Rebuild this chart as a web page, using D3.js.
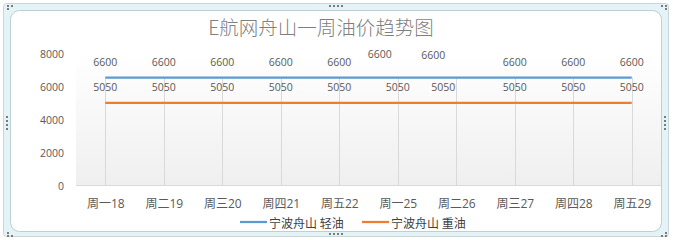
<!DOCTYPE html>
<html>
<head>
<meta charset="utf-8">
<script src="https://cdn.jsdelivr.net/npm/d3@7"></script>
<style>
  body { margin: 0; background: #fff; }
  svg { display: block; font-family: "Open Sans", "Noto Sans CJK SC", sans-serif; }
</style>
</head>
<body>
<svg width="673" height="240"></svg>
<script>
// donnees
const days = ["周一18", "周二19", "周三20", "周四21", "周五22", "周一25", "周二26", "周三27", "周四28", "周五29"];
const lightOil = [6600, 6600, 6600, 6600, 6600, 6600, 6600, 6600, 6600, 6600];
const heavyOil = [5050, 5050, 5050, 5050, 5050, 5050, 5050, 5050, 5050, 5050];
const yTicks = [0, 2000, 4000, 6000, 8000];
const seriesNames = ["宁波舟山 轻油", "宁波舟山 重油"];
const seriesColors = ["#5b9bd5", "#ed7d31"];

// decalage des etiquettes deplacees a la main (index -> [dx, dy])
const lightShift = { 5: [-18, -8], 6: [-23, -7] };
const heavyShift = { 6: [-13, 0] };

const svg = d3.select("svg");

/* ----- cadre ----- */
svg.append("rect").attr("x", 3.5).attr("y", 3.5).attr("width", 665).attr("height", 233)
  .attr("rx", 3).attr("fill", "#e4f3f5").attr("stroke", "#c9d6d9");
svg.append("rect").attr("x", 10.5).attr("y", 10.5).attr("width", 651).attr("height", 221)
  .attr("rx", 9).attr("fill", "#fff").attr("stroke", "#bccfd3");

// poignees
const dot = (x, y) => svg.append("rect").attr("x", x).attr("y", y).attr("width", 2).attr("height", 2).attr("fill", "#7a7a7a");
[329, 333, 337, 341].forEach((x) => { dot(x, 5); dot(x, 233); });
[116, 120, 124, 128].forEach((y) => { dot(6, y); dot(664, y); });
[[7, 5], [11, 5], [7, 8]].forEach(([x, y]) => dot(x, y));
[[661, 5], [665, 5], [665, 8]].forEach(([x, y]) => dot(x, y));
[[7, 232], [7, 235], [11, 235]].forEach(([x, y]) => dot(x, y));
[[665, 232], [661, 235], [665, 235]].forEach(([x, y]) => dot(x, y));

/* ----- echelles ----- */
const x = d3.scalePoint().domain(days).range([76, 661]).padding(0.5);
const y = d3.scaleLinear().domain([0, 8000]).range([186, 54.5]);

// fond degrade de la zone de trace
const grad = svg.append("defs").append("linearGradient")
  .attr("id", "bg").attr("x1", 0).attr("y1", 0).attr("x2", 0).attr("y2", 1);
grad.append("stop").attr("offset", "0%").attr("stop-color", "#ffffff");
grad.append("stop").attr("offset", "100%").attr("stop-color", "#efefef");
svg.append("rect").attr("x", 76).attr("y", y(8000)).attr("width", 585)
  .attr("height", y(0) - y(8000)).attr("fill", "url(#bg)");

// lignes de rappel (drop lines)
svg.append("g").selectAll("line").data(days).join("line")
  .attr("x1", (d) => Math.round(x(d)) + 0.5).attr("x2", (d) => Math.round(x(d)) + 0.5)
  .attr("y1", (d, i) => y(lightOil[i])).attr("y2", y(0))
  .attr("stroke", "#d9d9d9");

// axe x
const xAxis = svg.append("g").attr("transform", "translate(0," + (Math.round(y(0)) - 0.5) + ")")
  .call(d3.axisBottom(x).tickSize(0).tickPadding(14));
xAxis.select(".domain").attr("d", "M76,0H661").attr("stroke", "#d9d9d9");
xAxis.selectAll("text").attr("font-size", 12).attr("fill", "#595959")
  .attr("font-family", "'Open Sans','Noto Sans CJK SC',sans-serif");

// axe y
const yAxis = svg.append("g").attr("transform", "translate(64,0)")
  .call(d3.axisLeft(y).tickValues(yTicks).tickSize(0).tickPadding(0).tickFormat(d3.format("d")));
yAxis.select(".domain").remove();
yAxis.selectAll("text").attr("font-size", 10.5).attr("fill", "#595959")
  .attr("font-family", "'Open Sans',sans-serif");

/* ----- series ----- */
const series = [lightOil, heavyOil];
const line = d3.line().x((d, i) => x(days[i])).y((d) => y(d));
svg.append("g").selectAll("path").data(series).join("path")
  .attr("d", line).attr("fill", "none")
  .attr("stroke", (d, i) => seriesColors[i]).attr("stroke-width", 2.25);

// etiquettes de valeurs
const shifts = [lightShift, heavyShift];
series.forEach((vals, s) => {
  svg.append("g").selectAll("text").data(vals).join("text")
    .attr("x", (d, i) => x(days[i]) + (shifts[s][i] ? shifts[s][i][0] : 0))
    .attr("y", (d, i) => y(d) - 16 + (shifts[s][i] ? shifts[s][i][1] : 0))
    .attr("text-anchor", "middle").attr("dominant-baseline", "central")
    .attr("font-size", 10.5).attr("fill", "#595959")
    .text((d) => d);
});

/* ----- titre ----- */
svg.append("text").attr("x", 321).attr("y", 26)
  .attr("text-anchor", "middle").attr("dominant-baseline", "central")
  .attr("font-family", "'Noto Sans CJK SC',sans-serif").attr("font-weight", 300)
  .attr("font-size", 19.5).attr("fill", "#7f7f7f")
  .text("E航网舟山一周油价趋势图");

/* ----- legende ----- */
const legendX = [240, 362];
const legend = svg.append("g").selectAll("g").data(seriesNames).join("g")
  .attr("transform", (d, i) => "translate(" + legendX[i] + ",222)");
legend.append("line").attr("x1", 0).attr("x2", 27).attr("y1", 0).attr("y2", 0)
  .attr("stroke", (d, i) => seriesColors[i]).attr("stroke-width", 2.25);
legend.append("text").attr("x", 29).attr("dominant-baseline", "central")
  .attr("font-size", 12).attr("fill", "#404040")
  .attr("font-family", "'Noto Sans CJK SC',sans-serif")
  .text((d) => d);
</script>
</body>
</html>
